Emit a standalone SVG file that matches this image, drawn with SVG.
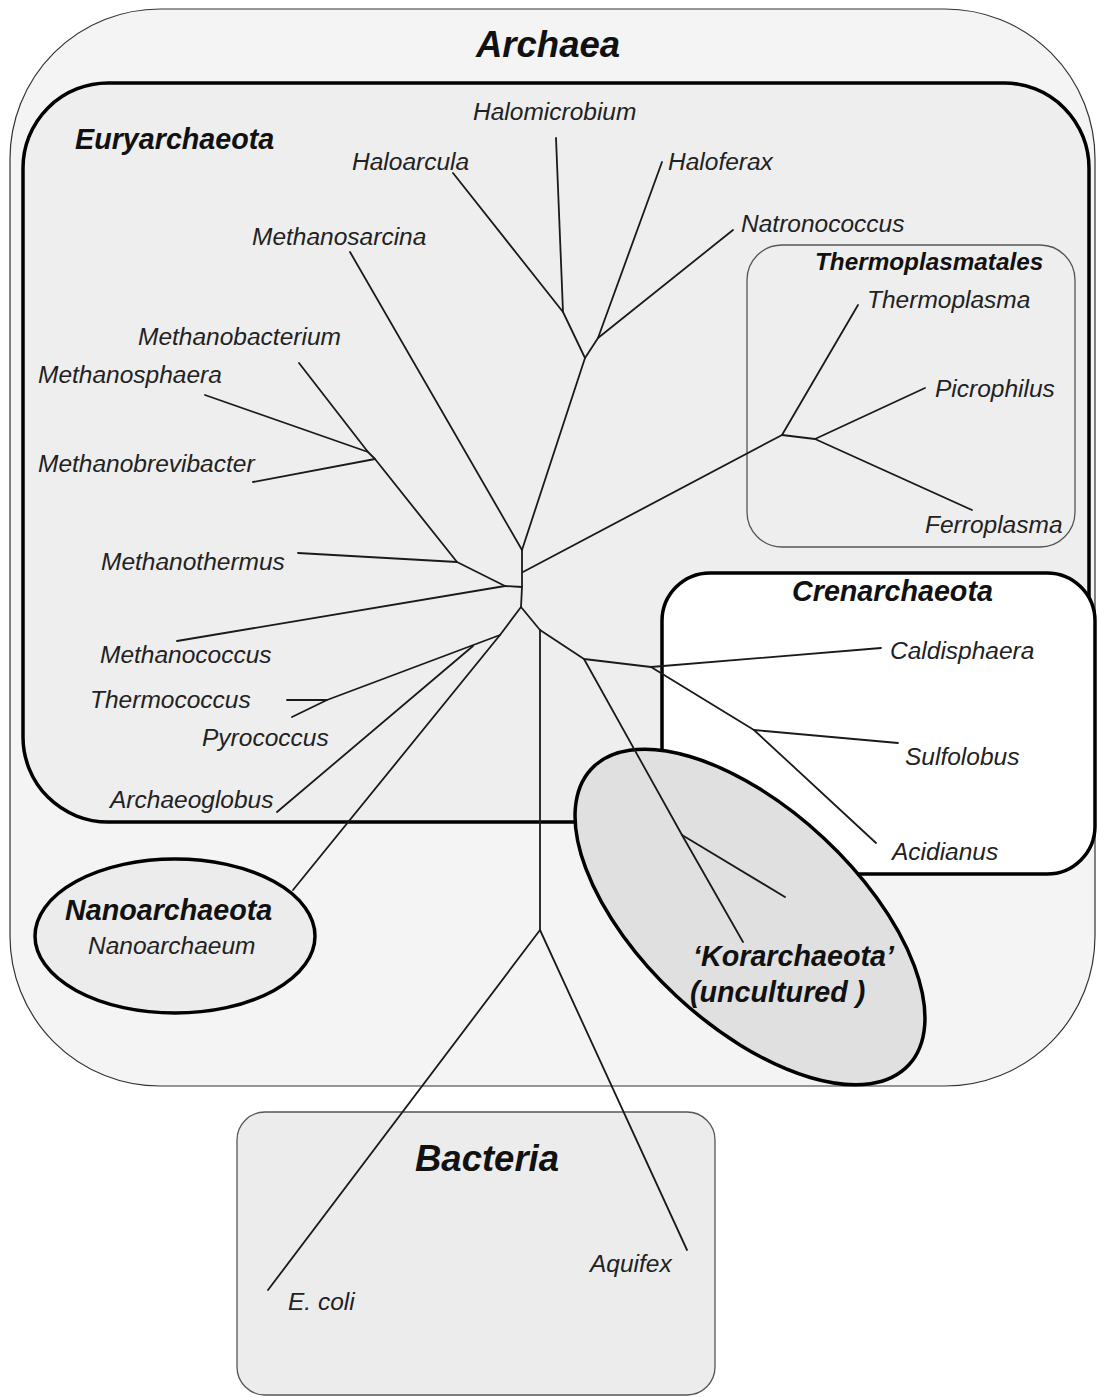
<svg xmlns="http://www.w3.org/2000/svg" width="1099" height="1397" viewBox="0 0 1099 1397">
<style>
.lbl{font-family:"Liberation Sans",Arial,sans-serif;font-style:italic;font-size:24.5px;fill:#222}
.grp{font-family:"Liberation Sans",Arial,sans-serif;font-style:italic;font-weight:bold;font-size:28.7px;fill:#111}
.big{font-family:"Liberation Sans",Arial,sans-serif;font-style:italic;font-weight:bold;font-size:36.5px;fill:#111}
.thick{stroke:#000;stroke-width:3.5}
.thin{stroke:#555;stroke-width:1.3}
.br{fill:none;stroke:#1a1a1a;stroke-width:1.8;stroke-linejoin:round;stroke-linecap:round}
</style>
<rect width="1099" height="1397" fill="#fff"/>
<g id="archaea"><rect x="10" y="9" width="1085" height="1077" rx="150" ry="150" fill="#f4f4f4" stroke="#333" stroke-width="1.2"/></g>
<g id="euryarchaeota"><rect x="23" y="83" width="1066" height="739" rx="85" ry="85" fill="#eeeeee" class="thick"/></g>
<g id="thermoplasmatales"><rect x="747" y="245" width="328" height="302" rx="35" ry="35" fill="#eeeeee" class="thin"/></g>
<g id="crenarchaeota"><rect x="662" y="573" width="433" height="301" rx="48" ry="48" fill="#ffffff" class="thick"/></g>
<g id="nanoarchaeota"><ellipse cx="175" cy="936" rx="140" ry="77" fill="#ececec" class="thick"/></g>
<g id="korarchaeota"><ellipse cx="0" cy="0" rx="217" ry="108" transform="translate(750,917) rotate(43)" fill="#e0e0e0" class="thick"/></g>
<g id="bacteria"><rect x="237" y="1112" width="478" height="283" rx="28" ry="28" fill="#ececec" class="thin"/></g>
<g id="connectors" class="br">
<path d="M350,252 L522,550"/>
<path d="M585,358 L522,550"/>
<path d="M453,173 L563,312 L585,358"/>
<path d="M556,138 L563,312"/>
<path d="M662,162 L598,338 L585,358"/>
<path d="M733,230 L598,338"/>
<path d="M522,550 L522,587 L521,607"/>
<path d="M523,572 L782,435 L858,305"/>
<path d="M782,435 L815,439 L925,388"/>
<path d="M815,439 L972,510"/>
<path d="M299,363 L368,452 L375,459 L457,562"/>
<path d="M205,395 L368,452"/>
<path d="M253,482 L375,459"/>
<path d="M298,553 L457,562 L505,586 L522,587"/>
<path d="M177,641 L505,586"/>
<path d="M521,607 L500,635 L327,700 L287,700"/>
<path d="M327,700 L292,717"/>
<path d="M473,646 L277,812"/>
<path d="M500,635 L293,890"/>
<path d="M521,607 L540,630 L584,659 L651,667 L881,648"/>
<path d="M540,630 L540,930 L268,1290"/>
<path d="M540,930 L687,1250"/>
<path d="M651,667 L754,730 L898,743"/>
<path d="M754,730 L876,843"/>
<path d="M584,659 L682,835 L743,942"/>
<path d="M682,835 L785,897"/>
</g>
<g id="labels">
<text class="big" x="476" y="57">Archaea</text>
<text class="grp" x="75" y="149">Euryarchaeota</text>
<text class="grp" x="815" y="270" style="font-size:24.3px">Thermoplasmatales</text>
<text class="grp" x="792" y="601">Crenarchaeota</text>
<text class="grp" x="65" y="920">Nanoarchaeota</text>
<text class="grp" x="693" y="966">‘Korarchaeota’</text>
<text class="grp" x="690" y="1002">(uncultured )</text>
<text class="big" x="415" y="1171">Bacteria</text>
<text class="lbl" x="473" y="120">Halomicrobium</text>
<text class="lbl" x="352" y="170">Haloarcula</text>
<text class="lbl" x="668" y="170">Haloferax</text>
<text class="lbl" x="741" y="232">Natronococcus</text>
<text class="lbl" x="252" y="245">Methanosarcina</text>
<text class="lbl" x="138" y="345">Methanobacterium</text>
<text class="lbl" x="38" y="383">Methanosphaera</text>
<text class="lbl" x="38" y="472">Methanobrevibacter</text>
<text class="lbl" x="101" y="570">Methanothermus</text>
<text class="lbl" x="100" y="663">Methanococcus</text>
<text class="lbl" x="90" y="708">Thermococcus</text>
<text class="lbl" x="202" y="746">Pyrococcus</text>
<text class="lbl" x="110" y="808">Archaeoglobus</text>
<text class="lbl" x="867" y="308">Thermoplasma</text>
<text class="lbl" x="935" y="397">Picrophilus</text>
<text class="lbl" x="925" y="533">Ferroplasma</text>
<text class="lbl" x="890" y="659">Caldisphaera</text>
<text class="lbl" x="905" y="765">Sulfolobus</text>
<text class="lbl" x="892" y="860">Acidianus</text>
<text class="lbl" x="88" y="954">Nanoarchaeum</text>
<text class="lbl" x="288" y="1310">E. coli</text>
<text class="lbl" x="590" y="1272">Aquifex</text>
</g>
</svg>
